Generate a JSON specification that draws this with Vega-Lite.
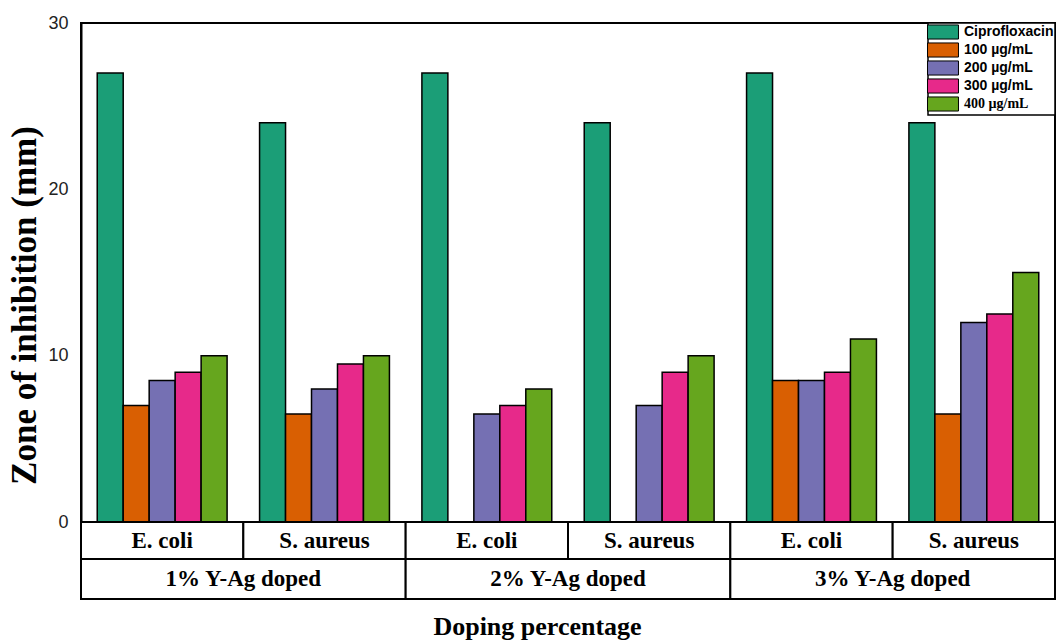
{
  "$schema": "https://vega.github.io/schema/vega-lite/v6.json",
  "background": "white",
  "padding": {"left": 6, "top": 13, "right": 0, "bottom": 0},
  "bounds": "flush",
  "spacing": 0,
  "datasets": {
    "zones": [
      {"doping": "1% Y-Ag doped", "species": "E. coli", "group": "1% E. coli", "treatment": "Ciprofloxacin", "zone": 27},
      {"doping": "1% Y-Ag doped", "species": "E. coli", "group": "1% E. coli", "treatment": "100 µg/mL", "zone": 7},
      {"doping": "1% Y-Ag doped", "species": "E. coli", "group": "1% E. coli", "treatment": "200 µg/mL", "zone": 8.5},
      {"doping": "1% Y-Ag doped", "species": "E. coli", "group": "1% E. coli", "treatment": "300 µg/mL", "zone": 9},
      {"doping": "1% Y-Ag doped", "species": "E. coli", "group": "1% E. coli", "treatment": "400 µg/mL", "zone": 10},
      {"doping": "1% Y-Ag doped", "species": "S. aureus", "group": "1% S. aureus", "treatment": "Ciprofloxacin", "zone": 24},
      {"doping": "1% Y-Ag doped", "species": "S. aureus", "group": "1% S. aureus", "treatment": "100 µg/mL", "zone": 6.5},
      {"doping": "1% Y-Ag doped", "species": "S. aureus", "group": "1% S. aureus", "treatment": "200 µg/mL", "zone": 8},
      {"doping": "1% Y-Ag doped", "species": "S. aureus", "group": "1% S. aureus", "treatment": "300 µg/mL", "zone": 9.5},
      {"doping": "1% Y-Ag doped", "species": "S. aureus", "group": "1% S. aureus", "treatment": "400 µg/mL", "zone": 10},
      {"doping": "2% Y-Ag doped", "species": "E. coli", "group": "2% E. coli", "treatment": "Ciprofloxacin", "zone": 27},
      {"doping": "2% Y-Ag doped", "species": "E. coli", "group": "2% E. coli", "treatment": "200 µg/mL", "zone": 6.5},
      {"doping": "2% Y-Ag doped", "species": "E. coli", "group": "2% E. coli", "treatment": "300 µg/mL", "zone": 7},
      {"doping": "2% Y-Ag doped", "species": "E. coli", "group": "2% E. coli", "treatment": "400 µg/mL", "zone": 8},
      {"doping": "2% Y-Ag doped", "species": "S. aureus", "group": "2% S. aureus", "treatment": "Ciprofloxacin", "zone": 24},
      {"doping": "2% Y-Ag doped", "species": "S. aureus", "group": "2% S. aureus", "treatment": "200 µg/mL", "zone": 7},
      {"doping": "2% Y-Ag doped", "species": "S. aureus", "group": "2% S. aureus", "treatment": "300 µg/mL", "zone": 9},
      {"doping": "2% Y-Ag doped", "species": "S. aureus", "group": "2% S. aureus", "treatment": "400 µg/mL", "zone": 10},
      {"doping": "3% Y-Ag doped", "species": "E. coli", "group": "3% E. coli", "treatment": "Ciprofloxacin", "zone": 27},
      {"doping": "3% Y-Ag doped", "species": "E. coli", "group": "3% E. coli", "treatment": "100 µg/mL", "zone": 8.5},
      {"doping": "3% Y-Ag doped", "species": "E. coli", "group": "3% E. coli", "treatment": "200 µg/mL", "zone": 8.5},
      {"doping": "3% Y-Ag doped", "species": "E. coli", "group": "3% E. coli", "treatment": "300 µg/mL", "zone": 9},
      {"doping": "3% Y-Ag doped", "species": "E. coli", "group": "3% E. coli", "treatment": "400 µg/mL", "zone": 11},
      {"doping": "3% Y-Ag doped", "species": "S. aureus", "group": "3% S. aureus", "treatment": "Ciprofloxacin", "zone": 24},
      {"doping": "3% Y-Ag doped", "species": "S. aureus", "group": "3% S. aureus", "treatment": "100 µg/mL", "zone": 6.5},
      {"doping": "3% Y-Ag doped", "species": "S. aureus", "group": "3% S. aureus", "treatment": "200 µg/mL", "zone": 12},
      {"doping": "3% Y-Ag doped", "species": "S. aureus", "group": "3% S. aureus", "treatment": "300 µg/mL", "zone": 12.5},
      {"doping": "3% Y-Ag doped", "species": "S. aureus", "group": "3% S. aureus", "treatment": "400 µg/mL", "zone": 15}
    ]
  },
  "vconcat": [
    {
      "width": 974,
      "height": 499,
      "data": {"name": "zones"},
      "mark": {"type": "bar", "stroke": "black", "strokeWidth": 1.5},
      "encoding": {
        "x": {
          "field": "group",
          "type": "nominal",
          "scale": {
            "domain": ["1% E. coli", "1% S. aureus", "2% E. coli", "2% S. aureus", "3% E. coli", "3% S. aureus"],
            "paddingInner": 0.2,
            "paddingOuter": 0.1
          },
          "axis": null
        },
        "xOffset": {
          "field": "treatment",
          "type": "nominal",
          "scale": {
            "domain": ["Ciprofloxacin", "100 µg/mL", "200 µg/mL", "300 µg/mL", "400 µg/mL"],
            "paddingInner": 0,
            "paddingOuter": 0
          }
        },
        "y": {
          "field": "zone",
          "type": "quantitative",
          "scale": {"domain": [0, 30], "nice": false},
          "axis": {
            "values": [0, 10, 20, 30],
            "title": "Zone of inhibition (mm)",
            "grid": false,
            "ticks": false,
            "labelPadding": 13,
            "labelFont": "Liberation Sans",
            "labelFontSize": 18,
            "labelColor": "#222222",
            "titleFont": "Liberation Serif",
            "titleFontSize": 35,
            "titleFontWeight": "bold",
            "titleColor": "black",
            "titlePadding": 5,
            "titleY": 282,
            "domainColor": "black",
            "domainWidth": 2
          }
        },
        "color": {
          "field": "treatment",
          "type": "nominal",
          "scale": {
            "domain": ["Ciprofloxacin", "100 µg/mL", "200 µg/mL", "300 µg/mL", "400 µg/mL"],
            "range": ["#1b9e77", "#d95f02", "#7570b3", "#e7298a", "#66a61e"]
          },
          "legend": {
            "title": null,
            "orient": "top-right",
            "offset": 0,
            "padding": 1,
            "strokeColor": "black",
            "fillColor": "white",
            "symbolType": "M-2.2,-1H2.2V1H-2.2Z",
            "symbolSize": 198,
            "symbolStrokeColor": "black",
            "symbolStrokeWidth": 1,
            "symbolOpacity": 1,
            "symbolOffset": 6,
            "labelOffset": 13,
            "rowPadding": -2,
            "labelFont": "Liberation Sans",
            "labelFontSize": 14,
            "labelFontWeight": "bold",
            "labelColor": "black",
            "encode": {
              "legend": {
                "update": {"strokeWidth": {"value": 1.5}}
              },
              "labels": {
                "update": {
                  "font": {"signal": "datum.label === '400 µg/mL' ? 'Liberation Serif' : 'Liberation Sans'"}
                }
              }
            }
          }
        }
      }
    },
    {
      "width": 974,
      "height": 37,
      "data": {"name": "zones"},
      "transform": [
        {"aggregate": [{"op": "count", "as": "bars"}], "groupby": ["group", "species"]}
      ],
      "encoding": {
        "x": {
          "field": "group",
          "type": "nominal",
          "scale": {
            "domain": ["1% E. coli", "1% S. aureus", "2% E. coli", "2% S. aureus", "3% E. coli", "3% S. aureus"],
            "padding": 0
          },
          "axis": null
        }
      },
      "layer": [
        {"mark": {"type": "rect", "fill": "white", "stroke": "black", "strokeWidth": 2}},
        {
          "mark": {"type": "text", "font": "Liberation Serif", "fontSize": 23, "fontWeight": "bold", "color": "black"},
          "encoding": {"text": {"field": "species"}}
        }
      ]
    },
    {
      "width": 974,
      "height": 40,
      "data": {"name": "zones"},
      "transform": [
        {"aggregate": [{"op": "count", "as": "bars"}], "groupby": ["doping"]}
      ],
      "encoding": {
        "x": {
          "field": "doping",
          "type": "nominal",
          "scale": {
            "domain": ["1% Y-Ag doped", "2% Y-Ag doped", "3% Y-Ag doped"],
            "padding": 0
          },
          "axis": {
            "labels": false,
            "ticks": false,
            "domain": false,
            "title": "Doping percentage",
            "titleFont": "Liberation Serif",
            "titleFontSize": 26,
            "titleFontWeight": "bold",
            "titleColor": "black",
            "titlePadding": 14,
            "titleX": 456
          }
        }
      },
      "layer": [
        {"mark": {"type": "rect", "fill": "white", "stroke": "black", "strokeWidth": 2}},
        {
          "mark": {"type": "text", "font": "Liberation Serif", "fontSize": 23, "fontWeight": "bold", "color": "black"},
          "encoding": {"text": {"field": "doping"}}
        }
      ]
    }
  ],
  "config": {
    "view": {"stroke": "black", "strokeWidth": 2},
    "font": "Liberation Serif"
  }
}
